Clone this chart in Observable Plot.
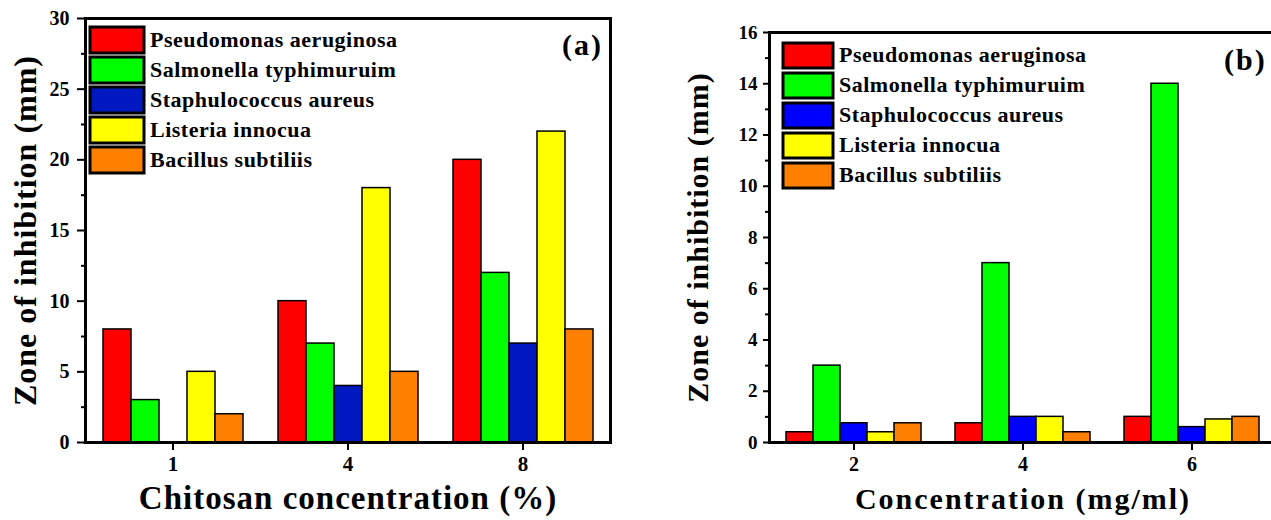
<!DOCTYPE html>
<html><head><meta charset="utf-8">
<script src="https://cdn.jsdelivr.net/npm/d3@7"></script>
<script src="https://cdn.jsdelivr.net/npm/@observablehq/plot@0.6"></script>
<style>
html,body{margin:0;padding:0;background:#fff;overflow:hidden;}
#wrap{position:relative;width:1271px;height:520px;overflow:hidden;background:#fff;}
.panel{position:absolute;top:0;}
.leg{position:absolute;width:360px;}
.leg div{font-family:'Liberation Serif','Times New Roman',serif !important;font-weight:bold;font-size:22px !important;color:#000;letter-spacing:0.5px;}
.leg svg{margin-right:6px !important;overflow:visible;}
.leg rect{stroke:#000;stroke-width:3px;}
.leg [class$="-swatch"]{margin-bottom:4px;padding-bottom:0 !important;}
.leg [class$="-label"]{max-width:none !important;overflow:visible !important;}
svg [aria-label="y-axis label"]{letter-spacing:1px;}
</style>
</head><body><div id="wrap"></div>
<script>
const species = ["Pseudomonas aeruginosa","Salmonella typhimuruim","Staphulococcus aureus","Listeria innocua","Bacillus subtiliis"];

// Panel (a): chitosan concentration (%)
const concA = ["1","4","8"];
const pseudomonasA = [8, 10, 20];
const salmonellaA  = [3, 7, 12];
const staphA       = [0, 4, 7];
const listeriaA    = [5, 18, 22];
const bacillusA    = [2, 5, 8];
const yTicksA = [0, 5, 10, 15, 20, 25, 30];
const colorsA = ["#FF0000","#00FF00","#0018C0","#FFFF00","#FF8000"];

// Panel (b): concentration (mg/ml)
const concB = ["2","4","6"];
const pseudomonasB = [0.4, 0.75, 1.0];
const salmonellaB  = [3, 7, 14];
const staphB       = [0.75, 1.0, 0.6];
const listeriaB    = [0.4, 1.0, 0.9];
const bacillusB    = [0.75, 0.4, 1.0];
const yTicksB = [0, 2, 4, 6, 8, 10, 12, 14, 16];
const colorsB = ["#FF0000","#00FF00","#0000FF","#FFFF00","#FF8000"];

function table(conc, series) {
  const rows = [];
  conc.forEach((c, i) => series.forEach((s, j) => rows.push({conc: c, species: species[j], value: s[i]})));
  return rows;
}

const font = "'Liberation Serif','Times New Roman',serif";

function makeChart(o) {
  const minor = d3.range(o.ticks[0] + o.minorStep, o.ticks[o.ticks.length - 1], o.minorStep * 2);
  return Plot.plot({
    width: 640, height: 520,
    marginLeft: o.ml, marginRight: o.mr, marginTop: o.mt, marginBottom: 78,
    style: {fontFamily: font, fontWeight: "bold", color: "#000", background: "transparent", overflow: "visible"},
    fx: {domain: o.conc, padding: 0},
    x: {domain: species, axis: null, paddingInner: 0, paddingOuter: 0.625},
    y: {domain: [o.ticks[0], o.ticks[o.ticks.length - 1]]},
    color: {domain: species, range: o.colors},
    marks: [
      Plot.barY(o.data, {fx: "conc", x: "species", y: "value", fill: "species", stroke: "#000", strokeWidth: 1.5}),
      Plot.axisY({ticks: o.ticks, tickSize: o.tickSize, tickPadding: o.tickPad, strokeWidth: 2,
        label: "Zone of inhibition (mm)", labelAnchor: "center", labelArrow: "none", labelOffset: o.labelOffsetY}),
      Plot.axisY({ticks: minor, tickSize: 4, strokeWidth: 2, tickFormat: () => "", label: null}),
      Plot.axisFx({anchor: "bottom", tickSize: 8, tickPadding: 6, strokeWidth: 2,
        label: o.xLabel, labelAnchor: "center", labelOffset: o.labelOffsetX, labelArrow: "none"}),
      Plot.frame({facet: "super", stroke: "#000", strokeWidth: 3})
    ]
  });
}

const wrap = document.getElementById("wrap");

function addPanel(o) {
  const chart = makeChart(o);
  chart.classList.add("panel");
  chart.style.left = o.left + "px";
  wrap.appendChild(chart);
  // font sizes of the axis texts
  chart.querySelectorAll('[aria-label="y-axis tick label"]').forEach(g => g.setAttribute("font-size", o.tickFont));
  chart.querySelectorAll('[aria-label="fx-axis tick label"]').forEach(g => g.setAttribute("font-size", o.xTickFont));
  chart.querySelectorAll('[aria-label="y-axis label"]').forEach(g => g.setAttribute("font-size", o.yLabelFont));
  chart.querySelectorAll('[aria-label="fx-axis label"]').forEach(g => {g.setAttribute("font-size", o.xLabelFont); g.style.letterSpacing = o.xLabelSpacing;});
  // panel tag
  const tag = document.createElement("div");
  tag.textContent = o.tag;
  Object.assign(tag.style, {position: "absolute", left: o.tagX + "px", top: o.tagY + "px", font: `bold ${o.tagFont}px ${font}`, letterSpacing: "2px", color: "#000"});
  wrap.appendChild(tag);
  // legend from the chart's color scale
  const leg = chart.legend("color", {legend: "swatches", columns: 1, swatchWidth: o.swW, swatchHeight: o.swH});
  const box = document.createElement("div");
  box.className = "leg";
  box.style.left = o.legX + "px";
  box.style.top = o.legY + "px";
  box.appendChild(leg);
  wrap.appendChild(box);
  box.querySelectorAll('[class$="-swatch"]').forEach(d => d.style.marginBottom = o.rowGap + "px");
}

addPanel({
  left: 0, ml: 84, mr: 29, mt: 18,
  conc: concA, data: table(concA, [pseudomonasA, salmonellaA, staphA, listeriaA, bacillusA]),
  ticks: yTicksA, minorStep: 2.5, colors: colorsA,
  tickSize: 8, tickPad: 8, tickFont: 20, xTickFont: 21,
  labelOffsetY: 72, labelOffsetX: 66, yLabelFont: 32, xLabel: "Chitosan concentration (%)", xLabelFont: 33, xLabelSpacing: "1px",
  tag: "(a)", tagX: 562, tagY: 28, tagFont: 30,
  legX: 90, legY: 27, swW: 54, swH: 26, rowGap: 4
});

addPanel({
  left: 640, ml: 129, mr: 4, mt: 32,
  conc: concB, data: table(concB, [pseudomonasB, salmonellaB, staphB, listeriaB, bacillusB]),
  ticks: yTicksB, minorStep: 1, colors: colorsB,
  tickSize: 6, tickPad: 6, tickFont: 19, xTickFont: 20,
  labelOffsetY: 83, labelOffsetX: 66, yLabelFont: 30, xLabel: "Concentration (mg/ml)", xLabelFont: 30, xLabelSpacing: "2px",
  tag: "(b)", tagX: 1224, tagY: 43, tagFont: 30,
  legX: 783, legY: 42, swW: 50, swH: 25, rowGap: 4
});
</script>
</body></html>
